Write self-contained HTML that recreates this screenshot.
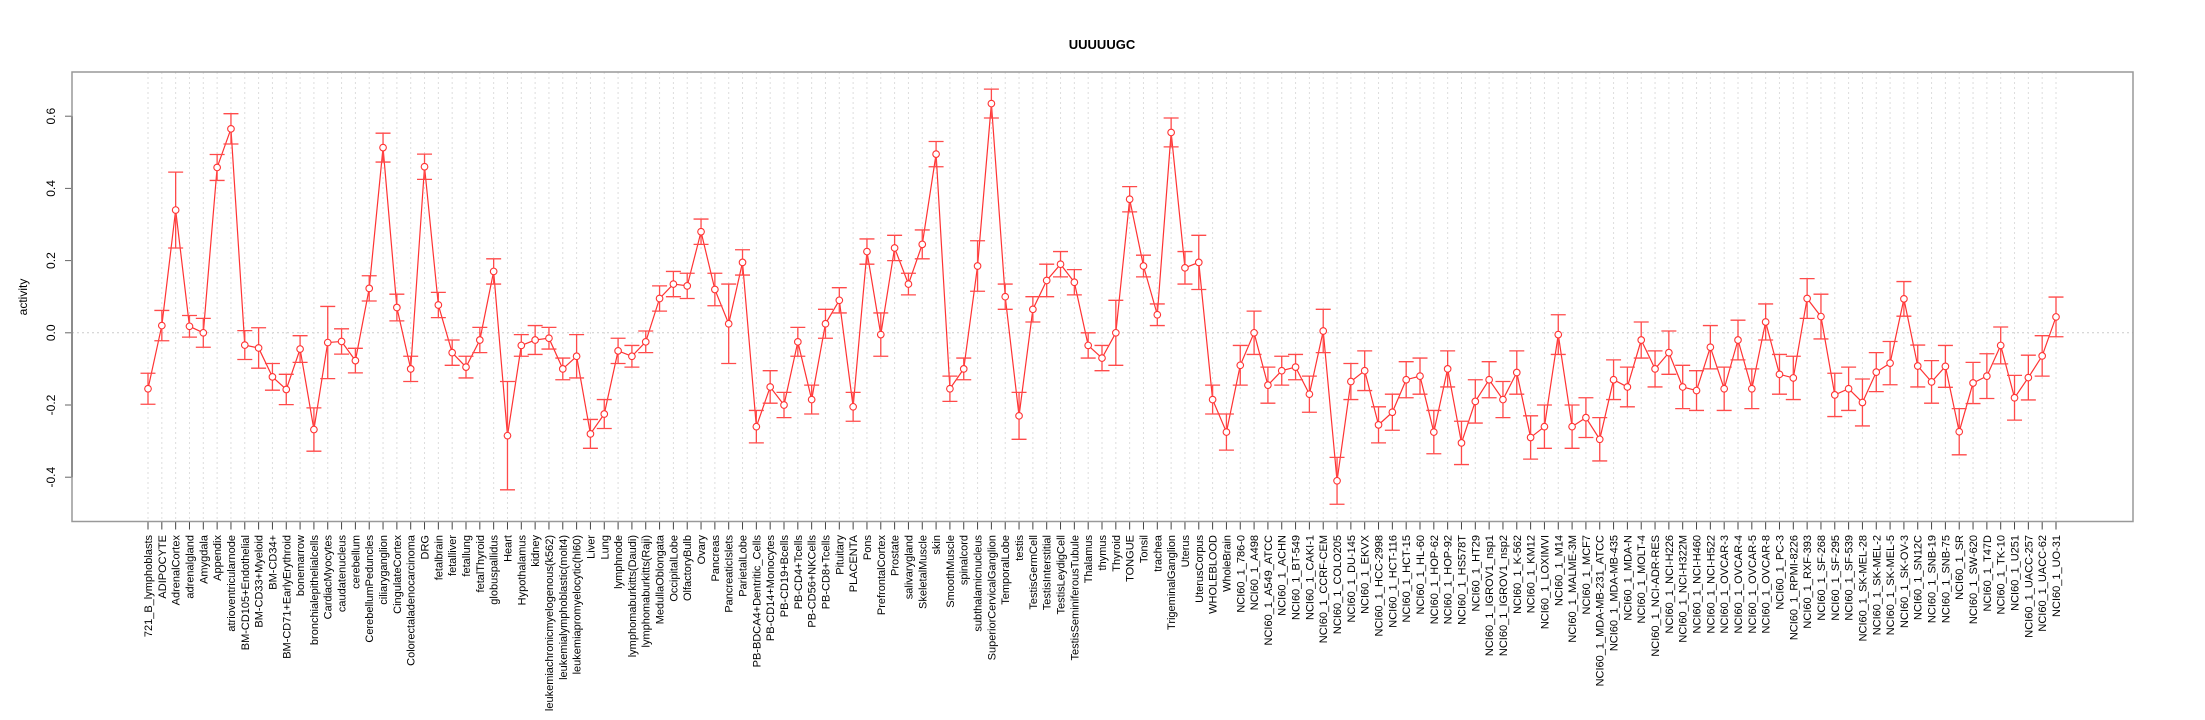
<!DOCTYPE html>
<html><head><meta charset="utf-8"><style>
html,body{margin:0;padding:0;background:#fff;}
svg{display:block;font-family:"Liberation Sans",sans-serif;}
</style></head><body>
<svg id="chart" width="2205" height="720" viewBox="0 0 2205 720" xmlns="http://www.w3.org/2000/svg">
<rect x="0" y="0" width="2205" height="720" fill="#fff"/>
<text x="1102" y="49" text-anchor="middle" font-weight="bold" font-size="13">UUUUUGC</text>
<text transform="translate(27,297) rotate(-90)" text-anchor="middle" font-size="12">activity</text>
<g id="grid"></g><g id="axes"></g><g id="marks"></g>
<rect x="72" y="72" width="2061" height="449.5" fill="none" stroke="#999" stroke-width="1.5"/>
</svg>
<script>
const categories=["721_B_lymphoblasts","ADIPOCYTE","AdrenalCortex","adrenalgland","Amygdala","Appendix","atrioventricularnode","BM-CD105+Endothelial","BM-CD33+Myeloid","BM-CD34+","BM-CD71+EarlyErythroid","bonemarrow","bronchialepithelialcells","CardiacMyocytes","caudatenucleus","cerebellum","CerebellumPeduncles","ciliaryganglion","CingulateCortex","Colorectaladenocarcinoma","DRG","fetalbrain","fetalliver","fetallung","fetalThyroid","globuspallidus","Heart","Hypothalamus","kidney","leukemiachronicmyelogenous(k562)","leukemialymphoblastic(molt4)","leukemiapromyelocytic(hl60)","Liver","Lung","lymphnode","lymphomaburkitts(Daudi)","lymphomaburkitts(Raji)","MedullaOblongata","OccipitalLobe","OlfactoryBulb","Ovary","Pancreas","PancreaticIslets","ParietalLobe","PB-BDCA4+Dentritic_Cells","PB-CD14+Monocytes","PB-CD19+Bcells","PB-CD4+Tcells","PB-CD56+NKCells","PB-CD8+Tcells","Pituitary","PLACENTA","Pons","PrefrontalCortex","Prostate","salivarygland","SkeletalMuscle","skin","SmoothMuscle","spinalcord","subthalamicnucleus","SuperiorCervicalGanglion","TemporalLobe","testis","TestisGermCell","TestisInterstitial","TestisLeydigCell","TestisSeminiferousTubule","Thalamus","thymus","Thyroid","TONGUE","Tonsil","trachea","TrigeminalGanglion","Uterus","UterusCorpus","WHOLEBLOOD","WholeBrain","NCI60_1_786-0","NCI60_1_A498","NCI60_1_A549_ATCC","NCI60_1_ACHN","NCI60_1_BT-549","NCI60_1_CAKI-1","NCI60_1_CCRF-CEM","NCI60_1_COLO205","NCI60_1_DU-145","NCI60_1_EKVX","NCI60_1_HCC-2998","NCI60_1_HCT-116","NCI60_1_HCT-15","NCI60_1_HL-60","NCI60_1_HOP-62","NCI60_1_HOP-92","NCI60_1_HS578T","NCI60_1_HT29","NCI60_1_IGROV1_nsp1","NCI60_1_IGROV1_nsp2","NCI60_1_K-562","NCI60_1_KM12","NCI60_1_LOXIMVI","NCI60_1_M14","NCI60_1_MALME-3M","NCI60_1_MCF7","NCI60_1_MDA-MB-231_ATCC","NCI60_1_MDA-MB-435","NCI60_1_MDA-N","NCI60_1_MOLT-4","NCI60_1_NCI-ADR-RES","NCI60_1_NCI-H226","NCI60_1_NCI-H322M","NCI60_1_NCI-H460","NCI60_1_NCI-H522","NCI60_1_OVCAR-3","NCI60_1_OVCAR-4","NCI60_1_OVCAR-5","NCI60_1_OVCAR-8","NCI60_1_PC-3","NCI60_1_RPMI-8226","NCI60_1_RXF-393","NCI60_1_SF-268","NCI60_1_SF-295","NCI60_1_SF-539","NCI60_1_SK-MEL-28","NCI60_1_SK-MEL-2","NCI60_1_SK-MEL-5","NCI60_1_SK-OV-3","NCI60_1_SN12C","NCI60_1_SNB-19","NCI60_1_SNB-75","NCI60_1_SR","NCI60_1_SW-620","NCI60_1_T47D","NCI60_1_TK-10","NCI60_1_U251","NCI60_1_UACC-257","NCI60_1_UACC-62","NCI60_1_UO-31"];
const values=[-0.155,0.02,0.34,0.018,0.0,0.458,0.565,-0.034,-0.042,-0.122,-0.157,-0.045,-0.268,-0.027,-0.024,-0.077,0.123,0.513,0.07,
-0.1,0.46,0.077,-0.055,-0.095,-0.02,0.17,-0.285,-0.035,-0.02,-0.015,-0.1,-0.065,-0.28,-0.225,-0.05,-0.065,-0.025,0.095,0.135,0.13,0.28,0.12,0.025,0.195,
-0.26,-0.15,-0.2,-0.025,-0.185,0.025,0.09,-0.205,0.225,-0.005,0.235,0.135,0.245,0.495,-0.155,-0.1,0.185,0.635,0.1,-0.23,0.065,0.145,0.19,0.14,-0.035,-0.07,0.0,0.37,0.185,0.05,0.555,0.18,0.195,-0.185,-0.275,
-0.09,0.0,-0.145,-0.105,-0.095,-0.17,0.005,-0.41,-0.135,-0.105,-0.255,-0.22,-0.13,-0.12,-0.275,-0.1,-0.305,-0.19,-0.13,-0.185,-0.11,-0.29,-0.26,-0.005,-0.26,-0.235,-0.295,-0.13,-0.15,-0.02,-0.1,-0.055,-0.15,-0.16,-0.04,-0.155,-0.02,-0.155,0.03,-0.115,-0.125,
0.095,0.045,-0.172,-0.155,-0.193,-0.109,-0.084,0.094,-0.092,-0.136,-0.093,-0.274,-0.139,-0.12,-0.035,-0.18,-0.124,-0.064,0.044];
const errors=[0.043,0.042,0.105,0.03,0.04,0.036,0.042,0.04,0.056,0.037,0.042,0.037,0.06,0.1,0.035,0.034,0.035,0.04,0.037,
0.035,0.035,0.035,0.035,0.03,0.035,0.035,0.15,0.03,0.04,0.03,0.03,0.06,0.04,0.04,0.035,0.03,0.03,0.035,0.035,0.035,0.035,0.045,0.11,0.035,
0.045,0.045,0.035,0.04,0.04,0.04,0.035,0.04,0.035,0.06,0.035,0.03,0.04,0.035,0.035,0.03,0.07,0.04,0.035,0.065,0.035,0.045,0.035,0.035,0.035,0.035,0.09,0.035,0.03,0.03,0.04,0.045,0.075,0.04,0.05,
0.055,0.06,0.05,0.04,0.035,0.05,0.06,0.065,0.05,0.055,0.05,0.05,0.05,0.05,0.06,0.05,0.06,0.06,0.05,0.05,0.06,0.06,0.06,0.055,0.06,0.055,0.06,0.055,0.055,0.05,0.05,0.06,0.06,0.055,0.06,0.06,0.055,0.055,0.05,0.055,0.06,
0.055,0.062,0.06,0.06,0.065,0.054,0.06,0.048,0.058,0.059,0.058,0.064,0.057,0.062,0.051,0.062,0.062,0.056,0.055];
const yTicks=[-0.4,-0.2,0.0,0.2,0.4,0.6];
const yTickLabels=["-0.4","-0.2","0.0","0.2","0.4","0.6"];

const NS="http://www.w3.org/2000/svg";
const X0=148,X1=2056,PT=72,PB=521.5;
function xScale(i){return X0+(X1-X0)*i/(categories.length-1);}
function yScale(v){return 332.8-v*361;}
function mk(tag,attrs,parent){const e=document.createElementNS(NS,tag);for(const k in attrs)e.setAttribute(k,attrs[k]);parent.appendChild(e);return e;}
const grid=document.getElementById('grid'),axes=document.getElementById('axes'),marks=document.getElementById('marks');

const zl=mk('line',{x1:72,x2:2133,y1:yScale(0),y2:yScale(0),stroke:'#ccc','stroke-dasharray':'2,3'},grid);



const yax=mk('line',{x1:72,x2:72,y1:yScale(yTicks[yTicks.length-1]),y2:yScale(yTicks[0]),stroke:'#666','stroke-width':2},axes);


yTicks.forEach((t,k)=>{
  const y=yScale(t);
  const tl=mk('line',{x1:65,x2:72,y1:y,y2:y,stroke:'#666'},axes);
  
  
  const tx=mk('text',{transform:`translate(55,${y}) rotate(-90)`,'text-anchor':'middle','font-size':12},axes);
  tx.textContent=yTickLabels[k];
  
  
});

categories.forEach((c,i)=>{
  const x=xScale(i);
  const g=mk('line',{x1:x,x2:x,y1:PT,y2:PB,stroke:'#ddd','stroke-dasharray':'2,3'},grid);
  
  
  const t=mk('line',{x1:x,x2:x,y1:PB,y2:PB+8,stroke:'#444'},axes);
  
  
  const tx=mk('text',{transform:`translate(${x+4},535) rotate(-90)`,'text-anchor':'end','font-size':11},axes);
  tx.textContent=c;
  
  
});

const pts=values.map((v,i)=>xScale(i)+','+yScale(v)).join(' ');
const pl=mk('polyline',{points:pts,fill:'none',stroke:'#ff3333','stroke-width':1.2},marks);



values.forEach((v,i)=>{
  const x=xScale(i),yt=yScale(v+errors[i]),yb=yScale(v-errors[i]);
  const eb=mk('path',{d:`M${x},${yt}V${yb}M${x-7.5},${yt}H${x+7.5}M${x-7.5},${yb}H${x+7.5}`,stroke:'#ff4a4a','stroke-width':1.3,fill:'none'},marks);
  
  
  const c=mk('circle',{cx:x,cy:yScale(v),r:3.3,fill:'#fff',stroke:'#ff3333','stroke-width':1.1},marks);
  
  
});
</script>
</body></html>
